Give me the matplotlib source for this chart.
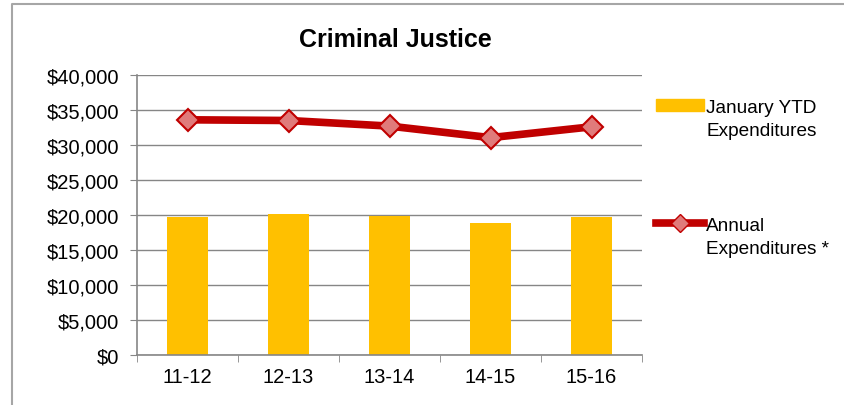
import numpy as np
import matplotlib.pyplot as plt
from matplotlib.lines import Line2D
from matplotlib.patches import Patch

plt.rcParams['font.family'] = ['Liberation Sans', 'DejaVu Sans']

years = ['11-12', '12-13', '13-14', '14-15', '15-16']
ytd = [19700, 20100, 19800, 18800, 19700]
annual = [33600, 33500, 32700, 31050, 32600]

fig = plt.figure(figsize=(8.44, 4.06), dpi=100)
ax = fig.add_axes([137 / 844, 1 - 356 / 406, (642 - 137) / 844, 280 / 406])

x = np.arange(len(years))
ax.bar(x, ytd, width=0.4, color='#FFC000', zorder=2)
ax.plot(x, annual, color='#C00000', lw=5.5, marker='D', markersize=11,
        markerfacecolor='#E07B7B', markeredgecolor='#C00000', markeredgewidth=1.5,
        zorder=3)

ax.set_ylim(0, 40000)
ax.set_xlim(-0.5, len(years) - 0.5)
ax.set_yticks(np.arange(0, 40001, 5000))
ax.set_yticklabels(['${:,}'.format(v) for v in range(0, 40001, 5000)])
ax.set_xticks(x)
ax.set_xticklabels(years)
ax.set_xticks(np.arange(-0.5, len(years)), minor=True)
ax.tick_params(axis='x', which='major', length=0, pad=9)
ax.tick_params(axis='x', which='minor', length=5, color='#868686')
ax.tick_params(axis='y', length=5, color='#868686', pad=8)
ax.tick_params(labelsize=14.5)
ax.grid(axis='y', color='#868686', lw=1, zorder=0)
ax.set_axisbelow(True)
for s in ['top', 'right']:
    ax.spines[s].set_visible(False)
for s in ['left', 'bottom']:
    ax.spines[s].set_color('#868686')
    ax.spines[s].set_linewidth(1.2)

fig.text(395 / 844, 1 - 40 / 406, 'Criminal Justice', ha='center', va='center',
         fontsize=18, fontweight='bold')

# legend: handle sits beside the first line of each label
blank = Line2D([], [], linestyle='none')
handles = [Patch(color='#FFC000'), blank, blank, blank, blank,
           Line2D([], [], color='#C00000', lw=5.5, marker='D', markersize=9,
                  markerfacecolor='#E07B7B', markeredgecolor='#C00000'),
           blank]
labels = ['January YTD', 'Expenditures', ' ', ' ', ' ', 'Annual', 'Expenditures *']
fig.legend(handles, labels, loc='upper left', bbox_to_anchor=(646 / 844, 1 - 90 / 406),
           frameon=False, fontsize=13.7, labelspacing=0.35, handlelength=2.55,
           handleheight=0.58, handletextpad=0.12, borderpad=0)

# chart-area frame (only top and left edges are inside the picture)
fig.add_artist(Line2D([12 / 844, 12 / 844, 1], [0, 1 - 5 / 406, 1 - 5 / 406],
                      transform=fig.transFigure, color='#A6A6A6', lw=1.5))

fig.savefig('out.png', dpi=100)
